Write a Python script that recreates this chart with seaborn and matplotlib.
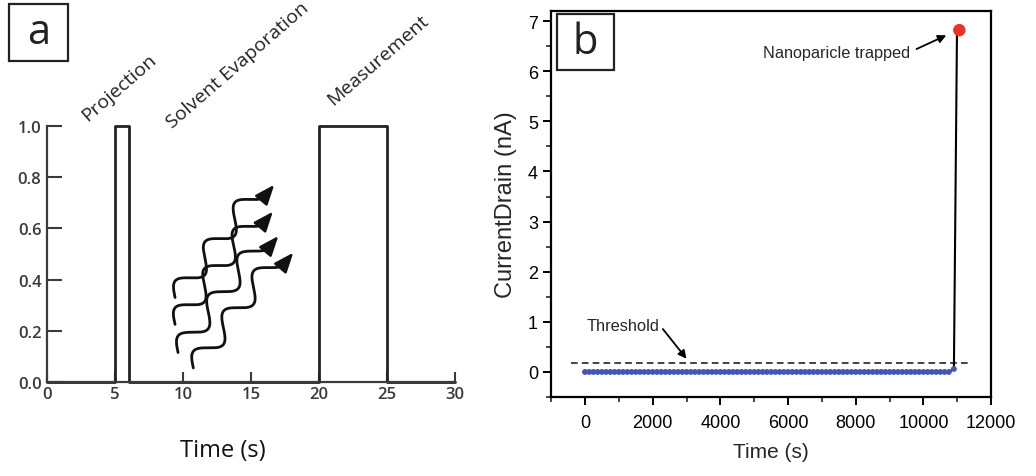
import numpy as np
import pandas as pd
import matplotlib
matplotlib.use("Agg")
import matplotlib.pyplot as plt
import seaborn as sns
from matplotlib.patches import Rectangle
from matplotlib.ticker import MultipleLocator

# panel a: protocol timeline (pulse on/off)
step_time = [0, 5, 5, 6, 6, 20, 20, 25, 25, 30]
step_level = [0, 0, 1, 1, 0, 0, 1, 1, 0, 0]
phase_names = ["Projection", "Solvent Evaporation", "Measurement"]
phase_x = [3.0, 9.2, 21.0]
phase_y = [1.02, 0.99, 1.08]

# panel b: drain current vs time
sample_step = 125
flat_end = 10800
jump_time = [10900, 10990]
jump_current = [0.06, 6.72]
peak_time = [11060]
peak_current = [6.82]
threshold = 0.18

sns.set_style("ticks")
plt.rcParams["font.family"] = ["Liberation Sans", "DejaVu Sans"]

fig = plt.figure(figsize=(10.36, 4.77), dpi=100)

# ---------------- panel a ----------------
ax1 = fig.add_axes([0.0454, 0.197, 0.394, 0.537])
gray = "#3a3a3a"
df_a = pd.DataFrame({"t": step_time, "v": step_level})
sns.lineplot(data=df_a, x="t", y="v", sort=False, estimator=None,
             errorbar=None, ax=ax1, color="#222222", linewidth=2.0,
             clip_on=False)
ax1.set_xlim(0, 30)
ax1.set_ylim(0, 1)
for s in ["top", "right"]:
    ax1.spines[s].set_visible(False)
for s in ["left", "bottom"]:
    ax1.spines[s].set_color(gray)
    ax1.spines[s].set_linewidth(1.6)
ax1.set_xticks(range(0, 31, 5))
ax1.set_yticks(np.round(np.arange(0, 1.01, 0.2), 1))
ax1.set_yticklabels([f"{v:.1f}" for v in np.arange(0, 1.01, 0.2)])
afont = ["Open Sans", "DejaVu Sans"]
ax1.tick_params(axis="y", direction="in", length=11, width=1.5, color=gray,
                labelcolor=gray, labelsize=12, pad=4)
ax1.tick_params(axis="x", direction="in", length=7, width=1.5, color=gray,
                labelcolor=gray, labelsize=12, pad=3)
for lab in ax1.get_xticklabels() + ax1.get_yticklabels():
    lab.set_family(afont)
    lab.set_fontweight("semibold")
ax1.set_xlabel("Time (s)", fontsize=17, family=afont, color="#111111")
ax1.xaxis.set_label_coords(0.43, -0.22)
ax1.set_ylabel("")
for name, x, y in zip(phase_names, phase_x, phase_y):
    ax1.text(x, y, name, rotation=41, rotation_mode="anchor", ha="left",
             va="baseline", fontsize=14, family=afont, color="#222222",
             clip_on=False)

# wavy evaporation arrows (decoration), built in display space
waves = [((9.41, 0.33), (16.7, 0.77)),
         ((9.41, 0.225), (16.6, 0.665)),
         ((9.63, 0.115), (17.0, 0.57)),
         ((10.75, 0.055), (18.1, 0.505))]
fig.canvas.draw()
to_disp = ax1.transData
to_data = ax1.transData.inverted()
head_px = 15.0
head_dir = np.array([np.cos(np.radians(50)), np.sin(np.radians(50))])
for (p0, p1) in waves:
    a = np.array(to_disp.transform(p0))
    b = np.array(to_disp.transform(p1))
    b = b - head_px * head_dir
    d = b - a
    L = np.hypot(*d)
    u = d / L
    n = np.array([-u[1], u[0]])
    t = np.linspace(0, 1, 300)
    off = 10.0 * np.sin(2 * np.pi * 2.75 * t)
    pts = a + np.outer(t * L, u) + np.outer(off, n)
    pts = pts - np.outer(t, pts[-1] - b)
    tip = b + head_px * head_dir
    dat = to_data.transform(pts)
    tip_d = to_data.transform(tip)
    ax1.plot(dat[:, 0], dat[:, 1], color="#111111", linewidth=2.0,
             solid_capstyle="round")
    ax1.annotate("", xy=tip_d, xytext=dat[-1],
                 arrowprops=dict(arrowstyle="-|>,head_length=0.6,head_width=0.24",
                                 color="#111111", mutation_scale=20,
                                 linewidth=1.8, shrinkA=0, shrinkB=0))

# ---------------- panel b ----------------
ax2 = fig.add_axes([0.532, 0.1656, 0.4247, 0.809])
flat_t = np.arange(0, flat_end + 1, sample_step)
flat_i = np.zeros_like(flat_t, dtype=float)
df_b = pd.DataFrame({"t": flat_t, "i": flat_i})
ax2.plot([-400, 11400], [threshold, threshold], linestyle=(0, (4, 2.5)),
         color="#222222", linewidth=1.2)
sns.lineplot(x=[flat_t[-1]] + jump_time, y=[0.0] + jump_current, ax=ax2,
             color="black", linewidth=1.5, sort=False, estimator=None,
             errorbar=None)
sns.scatterplot(data=df_b, x="t", y="i", ax=ax2, color="#4455b5", s=18,
                edgecolor="none", zorder=3)
sns.scatterplot(x=jump_time[:1], y=jump_current[:1], ax=ax2, color="#4455b5",
                s=18, edgecolor="none", zorder=3)
sns.scatterplot(x=peak_time, y=peak_current, ax=ax2, color="#e8322c",
                s=80, edgecolor="none", zorder=4)
ax2.set_xlim(-1000, 12000)
ax2.set_ylim(-0.5, 7.2)
ax2.xaxis.set_major_locator(MultipleLocator(2000))
ax2.xaxis.set_minor_locator(MultipleLocator(1000))
ax2.yaxis.set_major_locator(MultipleLocator(1))
ax2.yaxis.set_minor_locator(MultipleLocator(0.5))
ax2.set_xticks(range(0, 12001, 2000))
for s in ax2.spines.values():
    s.set_linewidth(1.6)
    s.set_color("black")
ax2.tick_params(which="major", direction="out", length=6, width=1.4,
                labelsize=13, colors="black")
ax2.tick_params(which="minor", direction="out", length=3.5, width=1.2)
ax2.tick_params(axis="x", pad=6)
ax2.set_xlabel("Time (s)", fontsize=15, labelpad=8)
ax2.set_ylabel("CurrentDrain (nA)", fontsize=17, labelpad=8)
ax2.text(2200, 0.92, "Threshold", fontsize=11.8, ha="right", va="center")
ax2.annotate("", xy=(3050, 0.22), xytext=(2250, 0.9),
             arrowprops=dict(arrowstyle="-|>", color="black", linewidth=1.3,
                             mutation_scale=12))
ax2.text(9600, 6.38, "Nanoparicle trapped", fontsize=11.7, ha="right", va="center")
ax2.annotate("", xy=(10750, 6.74), xytext=(9720, 6.42),
             arrowprops=dict(arrowstyle="-|>", color="black", linewidth=1.3,
                             mutation_scale=12))

# panel letters in boxes
for (x0, y0, x1, y1), letter in [((9, 5, 68, 62), "a"), ((557, 15, 614, 71), "b")]:
    W, H = 1036, 477
    fig.patches.append(Rectangle((x0 / W, 1 - y1 / H), (x1 - x0) / W, (y1 - y0) / H,
                                 transform=fig.transFigure, fill=False,
                                 edgecolor="#222222", linewidth=1.6))
    fig.text((x0 + x1) / 2 / W, 1 - (y0 + y1) / 2 / H, letter, ha="center",
             va="center", fontsize=30, family=afont, color="#222222")

fig.savefig("out.png", dpi=100)
